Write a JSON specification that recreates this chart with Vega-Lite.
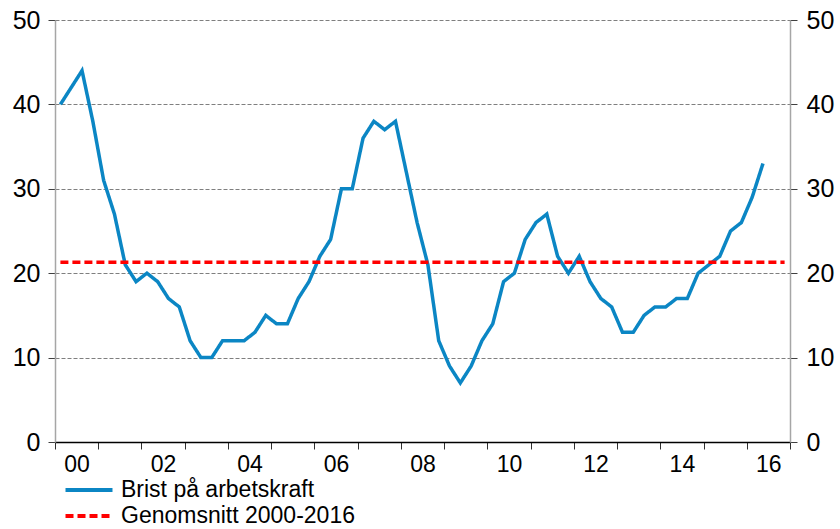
{
  "$schema": "https://vega.github.io/schema/vega-lite/v6.json",
  "width": 735,
  "height": 422,
  "autosize": {"type": "none"},
  "padding": {"left": 55, "top": 20, "right": 50, "bottom": 87},
  "background": "white",
  "config": {"view": {"stroke": null}, "font": "Liberation Sans"},
  "datasets": {
    "brist": [
      {"t": 2000.125, "v": 40, "serie": "Brist på arbetskraft"},
      {"t": 2000.375, "v": 42, "serie": "Brist på arbetskraft"},
      {"t": 2000.625, "v": 44, "serie": "Brist på arbetskraft"},
      {"t": 2000.875, "v": 38, "serie": "Brist på arbetskraft"},
      {"t": 2001.125, "v": 31, "serie": "Brist på arbetskraft"},
      {"t": 2001.375, "v": 27, "serie": "Brist på arbetskraft"},
      {"t": 2001.625, "v": 21, "serie": "Brist på arbetskraft"},
      {"t": 2001.875, "v": 19, "serie": "Brist på arbetskraft"},
      {"t": 2002.125, "v": 20, "serie": "Brist på arbetskraft"},
      {"t": 2002.375, "v": 19, "serie": "Brist på arbetskraft"},
      {"t": 2002.625, "v": 17, "serie": "Brist på arbetskraft"},
      {"t": 2002.875, "v": 16, "serie": "Brist på arbetskraft"},
      {"t": 2003.125, "v": 12, "serie": "Brist på arbetskraft"},
      {"t": 2003.375, "v": 10, "serie": "Brist på arbetskraft"},
      {"t": 2003.625, "v": 10, "serie": "Brist på arbetskraft"},
      {"t": 2003.875, "v": 12, "serie": "Brist på arbetskraft"},
      {"t": 2004.125, "v": 12, "serie": "Brist på arbetskraft"},
      {"t": 2004.375, "v": 12, "serie": "Brist på arbetskraft"},
      {"t": 2004.625, "v": 13, "serie": "Brist på arbetskraft"},
      {"t": 2004.875, "v": 15, "serie": "Brist på arbetskraft"},
      {"t": 2005.125, "v": 14, "serie": "Brist på arbetskraft"},
      {"t": 2005.375, "v": 14, "serie": "Brist på arbetskraft"},
      {"t": 2005.625, "v": 17, "serie": "Brist på arbetskraft"},
      {"t": 2005.875, "v": 19, "serie": "Brist på arbetskraft"},
      {"t": 2006.125, "v": 22, "serie": "Brist på arbetskraft"},
      {"t": 2006.375, "v": 24, "serie": "Brist på arbetskraft"},
      {"t": 2006.625, "v": 30, "serie": "Brist på arbetskraft"},
      {"t": 2006.875, "v": 30, "serie": "Brist på arbetskraft"},
      {"t": 2007.125, "v": 36, "serie": "Brist på arbetskraft"},
      {"t": 2007.375, "v": 38, "serie": "Brist på arbetskraft"},
      {"t": 2007.625, "v": 37, "serie": "Brist på arbetskraft"},
      {"t": 2007.875, "v": 38, "serie": "Brist på arbetskraft"},
      {"t": 2008.125, "v": 32, "serie": "Brist på arbetskraft"},
      {"t": 2008.375, "v": 26, "serie": "Brist på arbetskraft"},
      {"t": 2008.625, "v": 21, "serie": "Brist på arbetskraft"},
      {"t": 2008.875, "v": 12, "serie": "Brist på arbetskraft"},
      {"t": 2009.125, "v": 9, "serie": "Brist på arbetskraft"},
      {"t": 2009.375, "v": 7, "serie": "Brist på arbetskraft"},
      {"t": 2009.625, "v": 9, "serie": "Brist på arbetskraft"},
      {"t": 2009.875, "v": 12, "serie": "Brist på arbetskraft"},
      {"t": 2010.125, "v": 14, "serie": "Brist på arbetskraft"},
      {"t": 2010.375, "v": 19, "serie": "Brist på arbetskraft"},
      {"t": 2010.625, "v": 20, "serie": "Brist på arbetskraft"},
      {"t": 2010.875, "v": 24, "serie": "Brist på arbetskraft"},
      {"t": 2011.125, "v": 26, "serie": "Brist på arbetskraft"},
      {"t": 2011.375, "v": 27, "serie": "Brist på arbetskraft"},
      {"t": 2011.625, "v": 22, "serie": "Brist på arbetskraft"},
      {"t": 2011.875, "v": 20, "serie": "Brist på arbetskraft"},
      {"t": 2012.125, "v": 22, "serie": "Brist på arbetskraft"},
      {"t": 2012.375, "v": 19, "serie": "Brist på arbetskraft"},
      {"t": 2012.625, "v": 17, "serie": "Brist på arbetskraft"},
      {"t": 2012.875, "v": 16, "serie": "Brist på arbetskraft"},
      {"t": 2013.125, "v": 13, "serie": "Brist på arbetskraft"},
      {"t": 2013.375, "v": 13, "serie": "Brist på arbetskraft"},
      {"t": 2013.625, "v": 15, "serie": "Brist på arbetskraft"},
      {"t": 2013.875, "v": 16, "serie": "Brist på arbetskraft"},
      {"t": 2014.125, "v": 16, "serie": "Brist på arbetskraft"},
      {"t": 2014.375, "v": 17, "serie": "Brist på arbetskraft"},
      {"t": 2014.625, "v": 17, "serie": "Brist på arbetskraft"},
      {"t": 2014.875, "v": 20, "serie": "Brist på arbetskraft"},
      {"t": 2015.125, "v": 21, "serie": "Brist på arbetskraft"},
      {"t": 2015.375, "v": 22, "serie": "Brist på arbetskraft"},
      {"t": 2015.625, "v": 25, "serie": "Brist på arbetskraft"},
      {"t": 2015.875, "v": 26, "serie": "Brist på arbetskraft"},
      {"t": 2016.125, "v": 29, "serie": "Brist på arbetskraft"},
      {"t": 2016.375, "v": 33, "serie": "Brist på arbetskraft"}
    ],
    "snitt": [
      {"t": 2000.125, "v": 21.3, "serie": "Genomsnitt 2000-2016"},
      {"t": 2016.875, "v": 21.3, "serie": "Genomsnitt 2000-2016"}
    ]
  },
  "layer": [
    {
      "data": {"name": "brist"},
      "mark": {"type": "line", "strokeWidth": 3.5},
      "encoding": {
        "x": {
          "field": "t", "type": "quantitative",
          "scale": {"domain": [2000, 2017], "nice": false, "zero": false},
          "axis": {
            "title": null,
            "values": [2000, 2001, 2002, 2003, 2004, 2005, 2006, 2007, 2008, 2009, 2010, 2011, 2012, 2013, 2014, 2015, 2016, 2017],
            "labelExpr": "(datum.value % 2 == 0 && datum.value < 2017) ? substring(toString(datum.value), 2, 4) : ''",
            "labelOffset": 21.6,
            "labelFontSize": 23,
            "labelColor": "#000000",
            "labelFont": "Liberation Sans",
            "labelPadding": 4,
            "labelOverlap": false,
            "labelFlush": false,
            "labelBound": false,
            "tickSize": 7,
            "tickColor": "#303030",
            "tickWidth": 1,
            "domainColor": "#000000",
            "domainWidth": 1.5,
            "grid": false
          }
        },
        "y": {
          "field": "v", "type": "quantitative",
          "scale": {"domain": [0, 50], "nice": false},
          "axis": {
            "title": null,
            "orient": "left",
            "values": [0, 10, 20, 30, 40, 50],
            "labelFontSize": 25,
            "labelColor": "#000000",
            "labelFont": "Liberation Sans",
            "labelPadding": 8,
            "tickSize": 7,
            "tickColor": "#404040",
            "domainColor": "#a6a6a6",
            "domainWidth": 1.5,
            "grid": true,
            "gridColor": "#7f7f7f",
            "gridDash": [4, 2],
            "gridWidth": 1
          }
        },
        "color": {
          "field": "serie", "type": "nominal",
          "scale": {"domain": ["Brist på arbetskraft", "Genomsnitt 2000-2016"], "range": ["#0b86c4", "#ff0000"]},
          "legend": {
            "title": null, "orient": "none", "legendX": 20, "legendY": 456, "direction": "vertical",
            "symbolType": "M-2,0H2", "symbolSize": 552, "symbolStrokeWidth": 4,
            "labelFontSize": 23, "labelColor": "#000000", "labelFont": "Liberation Sans", "labelOffset": 18,
            "labelLimit": 500, "rowPadding": 0, "padding": 0
          }
        },
        "strokeDash": {
          "field": "serie", "type": "nominal",
          "scale": {"domain": ["Brist på arbetskraft", "Genomsnitt 2000-2016"], "range": [[1, 0], [8, 4]]},
          "legend": {
            "title": null, "orient": "none", "legendX": 20, "legendY": 456, "direction": "vertical",
            "symbolType": "M-2,0H2", "symbolSize": 552, "symbolStrokeWidth": 4,
            "labelFontSize": 23, "labelColor": "#000000", "labelFont": "Liberation Sans", "labelOffset": 18,
            "labelLimit": 500, "rowPadding": 0, "padding": 0
          }
        }
      }
    },
    {
      "data": {"name": "snitt"},
      "mark": {"type": "line", "strokeWidth": 3.5},
      "encoding": {
        "x": {"field": "t", "type": "quantitative"},
        "y": {
          "field": "v", "type": "quantitative",
          "axis": {
            "title": null,
            "orient": "right",
            "values": [0, 10, 20, 30, 40, 50],
            "labelFontSize": 25,
            "labelColor": "#000000",
            "labelFont": "Liberation Sans",
            "labelPadding": 9,
            "tickSize": 7,
            "tickColor": "#404040",
            "domainColor": "#a6a6a6",
            "domainWidth": 1.5,
            "grid": false
          }
        },
        "color": {"field": "serie", "type": "nominal"},
        "strokeDash": {"field": "serie", "type": "nominal"}
      }
    }
  ],
  "resolve": {"axis": {"y": "independent"}}
}
